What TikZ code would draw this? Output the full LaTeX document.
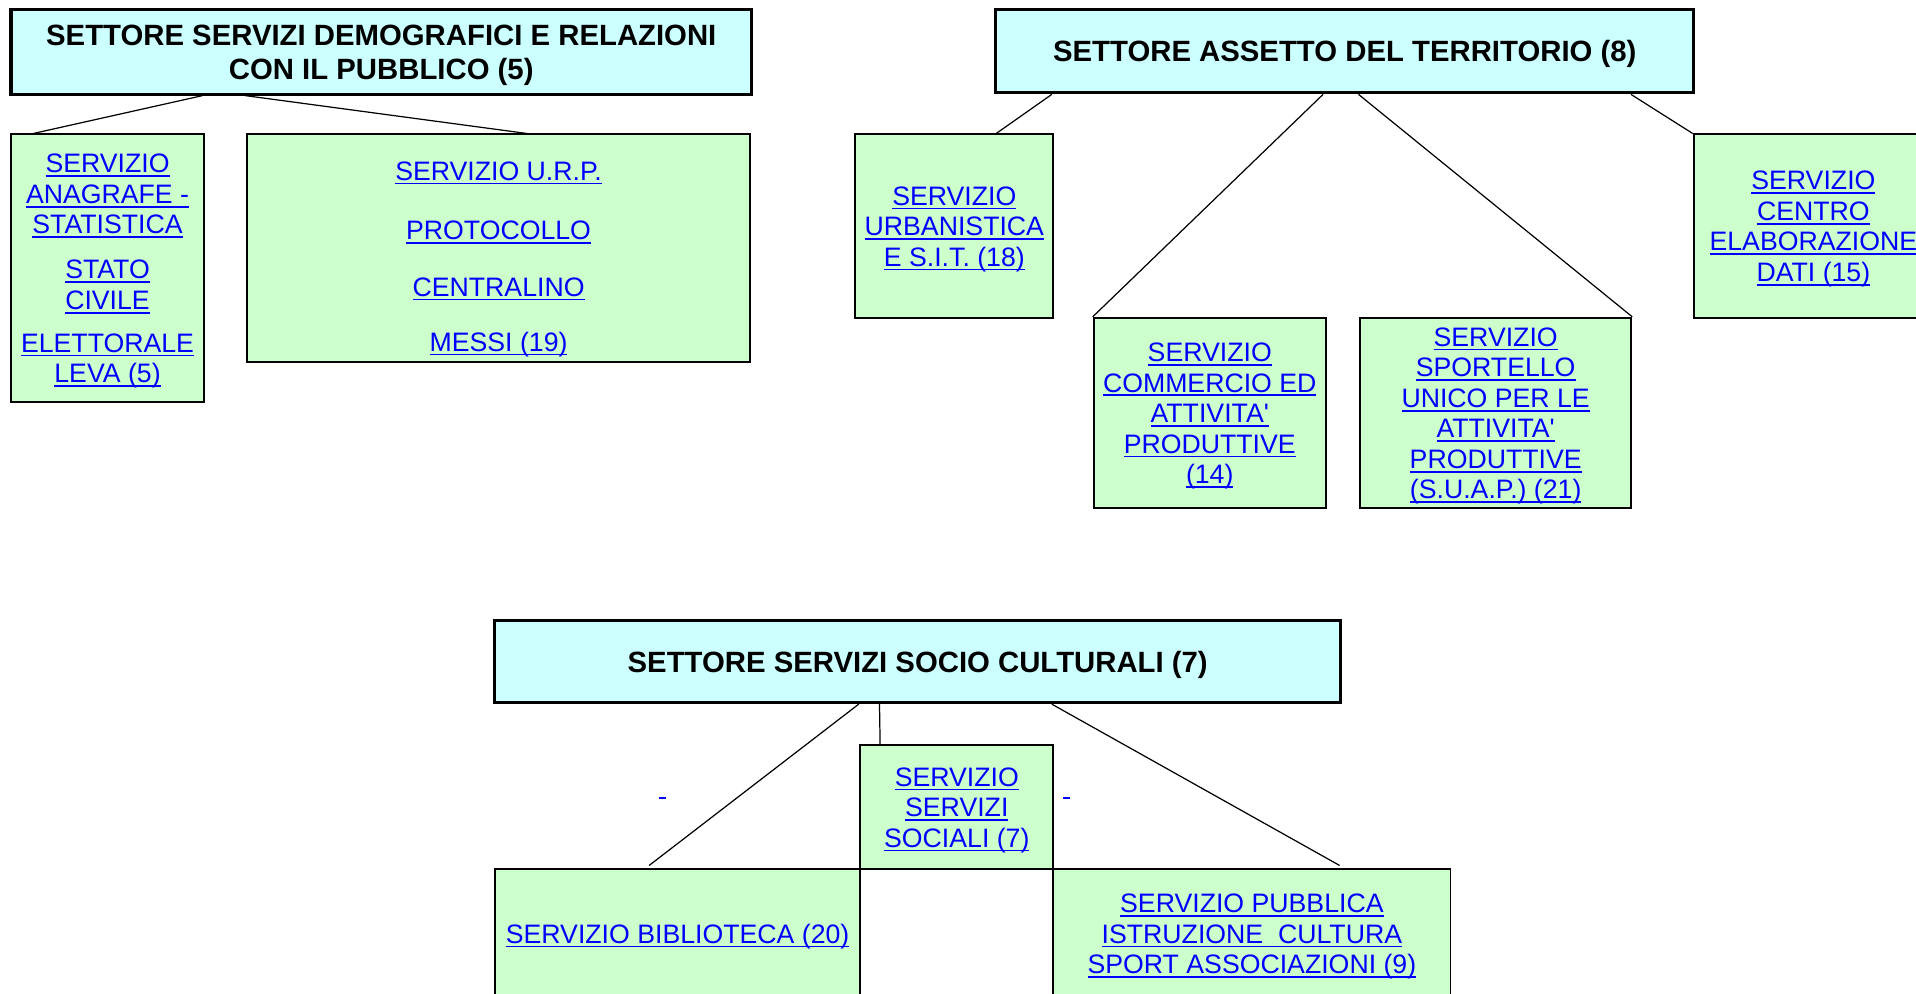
\documentclass[tikz,border=0pt]{standalone}
\usepackage{fontspec}
\setmainfont{Liberation Sans}
\usetikzlibrary{calc}
\definecolor{hdrfill}{HTML}{CCFFFF}
\definecolor{boxfill}{HTML}{CCFFCC}
\definecolor{lnkblue}{HTML}{0000FF}
\newcommand\ulk[1]{\leavevmode\setbox0\hbox{#1}\rlap{\rule[-2.1pt]{\wd0}{0.9pt}}\box0}
\newcommand\apo{\textquotesingle}
\newcommand\fs{\rule{0pt}{12.1pt}}
\newcommand\fh{\rule{0pt}{13.3pt}}
\begin{document}
\begin{tikzpicture}[x=0.6pt,y=-0.6pt,
  hdr/.style={draw=black,line width=1.5pt,fill=hdrfill,inner sep=0pt,align=center,
    font=\fontsize{14.4}{16.8}\selectfont\bfseries},
  srv/.style={draw=black,line width=0.9pt,fill=boxfill,inner sep=0pt,align=center,
    text=lnkblue,font=\fontsize{13.1}{15}\selectfont},
  lnktxt/.style={inner sep=0pt,align=center,text=lnkblue,font=\fontsize{13.1}{15}\selectfont},
  conn/.style={draw=black,line width=0.6pt},
  sz/.style 2 args={minimum width=#1,minimum height=#2}]
\useasboundingbox (0,0) rectangle (1568,813);
\clip (0,0) rectangle (1568,813);

% ---- Settore servizi demografici
\node (a) [hdr, sz={363.6pt}{41.4pt}] at (312,42.5) {\fh SETTORE SERVIZI DEMOGRAFICI E RELAZIONI\\CON IL PUBBLICO (5)};
\node (a1) [srv, sz={94.8pt}{131.4pt}] at (88,219.5) {\fs\ulk{SERVIZIO}\\\ulk{ANAGRAFE -}\\\ulk{STATISTICA}\\[7pt]\ulk{STATO}\\\ulk{CIVILE}\\[6pt]\ulk{ELETTORALE}\\\ulk{LEVA (5)}};
\node (a2) [srv, sz={247.2pt}{111.6pt}] at (408,203) {};
\node (a2t) [lnktxt] at (408,212) {\ulk{SERVIZIO U.R.P.}\\[14.4pt]\ulk{PROTOCOLLO}\\[12.6pt]\ulk{CENTRALINO}\\[12pt]\ulk{MESSI (19)}};
\draw[conn] ($(a.south west)+(158,0)$) -- ($(a1.north west)+(19,0)$);
\draw[conn] ($(a.south west)+(193,0)$) -- ($(a2.north west)+(230,0)$);

% ---- Settore assetto del territorio
\node (b) [hdr, sz={342.6pt}{40.8pt}] at (1100.5,42) {\fh SETTORE ASSETTO DEL TERRITORIO (8)};
\node (b1) [srv, sz={97.2pt}{90pt}] at (781,185) {\fs\ulk{SERVIZIO}\\\ulk{URBANISTICA}\\\ulk{E S.I.T. (18)}};
\node (b2) [srv, sz={114pt}{93.6pt}] at (990,338) {\fs\ulk{SERVIZIO}\\\ulk{COMMERCIO ED}\\\ulk{ATTIVITA\apo}\\\ulk{PRODUTTIVE}\\\ulk{(14)}};
\node (b3) [srv, sz={133.2pt}{93.6pt}] at (1224,338) {\fs\ulk{SERVIZIO}\\\ulk{SPORTELLO}\\\ulk{UNICO PER LE}\\\ulk{ATTIVITA\apo}\\\ulk{PRODUTTIVE}\\\ulk{(S.U.A.P.) (21)}};
\node (b4) [srv, sz={117.6pt}{90pt}] at (1484,185) {\fs\ulk{SERVIZIO}\\\ulk{CENTRO}\\\ulk{ELABORAZIONE}\\\ulk{DATI (15)}};
\draw[conn] ($(b.south west)+(47,0)$) -- ($(b1.north west)+(116,0)$);
\draw[conn] ($(b.south west)+(269,0)$) -- (b2.north west);
\draw[conn] ($(b.south west)+(298,0)$) -- (b3.north east);
\draw[conn] ($(b.south west)+(521,0)$) -- (b4.north west);

% ---- Settore servizi socio culturali
\node (c) [hdr, sz={415.2pt}{40.2pt}] at (751,541.5) {\fh SETTORE SERVIZI SOCIO CULTURALI (7)};
\node (c1) [srv, sz={94.8pt}{60.6pt}] at (783,660.5) {\fs\ulk{SERVIZIO}\\\ulk{SERVIZI}\\\ulk{SOCIALI (7)}};
\node (c2) [srv, sz={179.4pt}{63.6pt}] at (554.5,764) {\fs\ulk{SERVIZIO BIBLIOTECA (20)}};
\node (c3) [srv, sz={195pt}{63.6pt}] at (1024.5,764) {\fs\ulk{SERVIZIO PUBBLICA}\\\ulk{ISTRUZIONE\ \ CULTURA}\\\ulk{SPORT ASSOCIAZIONI (9)}};
\draw[conn] ($(c.south west)+(299,0)$) -- ($(c2.north west)+(127,-2)$);
\draw[conn] ($(c.south west)+(316,0)$) -- ($(c1.north west)+(17,0)$);
\draw[conn] ($(c.south west)+(457,0)$) -- ($(c3.north west)+(235,-2)$);
\node (d1) [lnktxt, anchor=base] at (542,650) {\ulk{\hspace{3.6pt}}};
\node (d2) [lnktxt, anchor=base] at (873,650) {\ulk{\hspace{3.6pt}}};
\end{tikzpicture}
\end{document}
